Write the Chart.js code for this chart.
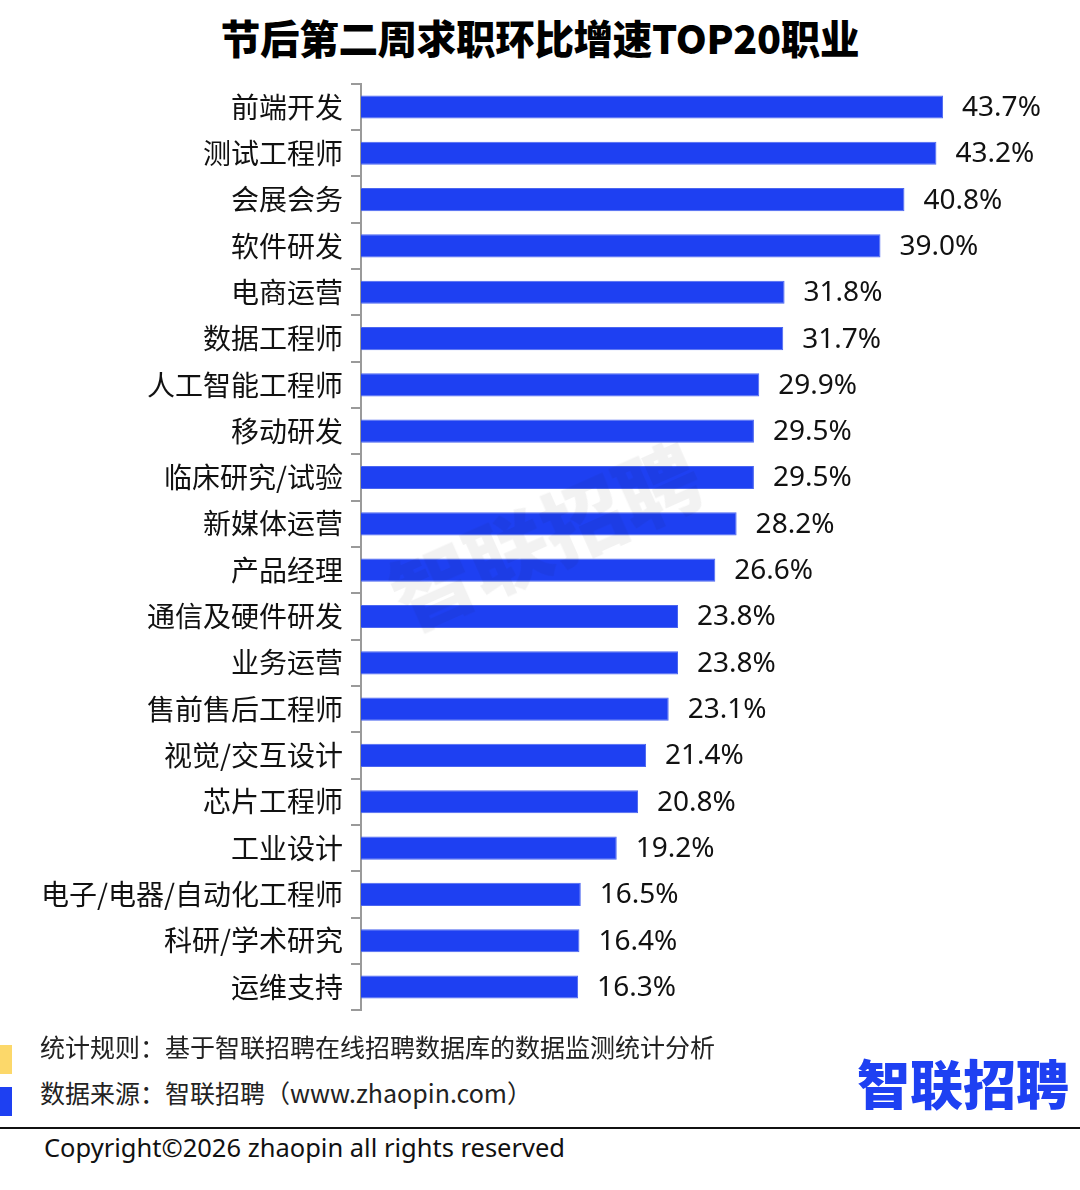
<!DOCTYPE html>
<html>
<head>
<meta charset="utf-8">
<script src="https://cdn.jsdelivr.net/npm/chart.js@4/dist/chart.umd.min.js"></script>
<style>
  html,body{margin:0;padding:0;background:#fff;}
  body{width:1080px;height:1190px;position:relative;overflow:hidden;font-family:"Noto Sans CJK SC","Noto Sans",sans-serif;}
  #title{position:absolute;left:0;width:1080px;top:10px;text-align:center;font-size:39.5px;font-weight:900;color:#000;line-height:54px;letter-spacing:-0.3px;}
  #wrap{position:absolute;left:0;top:59px;width:1080px;height:976px;}
  #wm{position:absolute;left:370px;top:545px;font-size:82px;font-weight:900;color:rgba(0,0,0,0.05);transform:rotate(-24deg);transform-origin:left top;white-space:nowrap;}
  .sq{position:absolute;left:0;width:12px;height:29px;}
  .note{position:absolute;left:40px;font-size:25px;color:#222;line-height:30px;}
  #logo{position:absolute;left:857px;top:1047px;font-size:53px;font-weight:900;color:#1e40f2;line-height:70px;letter-spacing:0;}
  #rule{position:absolute;left:0;top:1127px;width:1080px;height:2px;background:#111;}
  #copy{position:absolute;left:44px;top:1130px;font-size:25.5px;color:#111;line-height:34px;font-family:"Noto Sans","Open Sans",sans-serif;}
</style>
</head>
<body>
<div id="title">节后第二周求职环比增速TOP20职业</div>
<div id="wrap"><canvas id="c"></canvas></div>
<div id="wm">智联招聘</div>
<div class="sq" style="top:1045px;background:#fcd86a;"></div>
<div class="sq" style="top:1087px;background:#1e40f2;"></div>
<div class="note" style="top:1031px;">统计规则：基于智联招聘在线招聘数据库的数据监测统计分析</div>
<div class="note" style="top:1077px;">数据来源：智联招聘（www.zhaopin.com）</div>
<div id="logo">智联招聘</div>
<div id="rule"></div>
<div id="copy">Copyright©2026 zhaopin all rights reserved</div>
<script>
const categories = ["前端开发","测试工程师","会展会务","软件研发","电商运营","数据工程师","人工智能工程师","移动研发","临床研究/试验","新媒体运营","产品经理","通信及硬件研发","业务运营","售前售后工程师","视觉/交互设计","芯片工程师","工业设计","电子/电器/自动化工程师","科研/学术研究","运维支持"];
const growth = [43.7,43.2,40.8,39.0,31.8,31.7,29.9,29.5,29.5,28.2,26.6,23.8,23.8,23.1,21.4,20.8,19.2,16.5,16.4,16.3];

const valueLabels = {
  id:'valueLabels',
  afterDatasetsDraw(chart){
    const ctx = chart.ctx;
    const meta = chart.getDatasetMeta(0);
    ctx.save();
    ctx.font = '28px "Noto Sans","Open Sans",sans-serif';
    ctx.fillStyle = '#111';
    ctx.textAlign = 'left';
    ctx.textBaseline = 'middle';
    meta.data.forEach((bar,i)=>{
      ctx.fillText(growth[i].toFixed(1)+'%', bar.x+19, bar.y+1);
    });
    ctx.restore();
  }
};

Chart.defaults.font.family = '"Noto Sans CJK SC","Noto Sans",sans-serif';
new Chart(document.getElementById('c'),{
  type:'bar',
  data:{labels:categories,datasets:[{data:growth,backgroundColor:'#1e40f2',borderColor:'#4b66f0',borderWidth:1,borderSkipped:'left',barPercentage:0.5,categoryPercentage:1.0}]},
  options:{
    indexAxis:'y',
    responsive:true,maintainAspectRatio:false,animation:false,
    layout:{padding:{top:22,bottom:9,right:53,left:0}},
    plugins:{legend:{display:false},tooltip:{enabled:false}},
    scales:{
      x:{display:false,min:0,max:50},
      y:{
        afterFit(s){s.width=361;},
        grid:{drawOnChartArea:false,drawTicks:true,tickLength:10,color:'#9a9a9a',lineWidth:2,offset:true},
        border:{display:true,color:'#9a9a9a',width:2},
        ticks:{color:'#111',font:{size:28},padding:8}
      }
    }
  },
  plugins:[valueLabels]
});
</script>
</body>
</html>
